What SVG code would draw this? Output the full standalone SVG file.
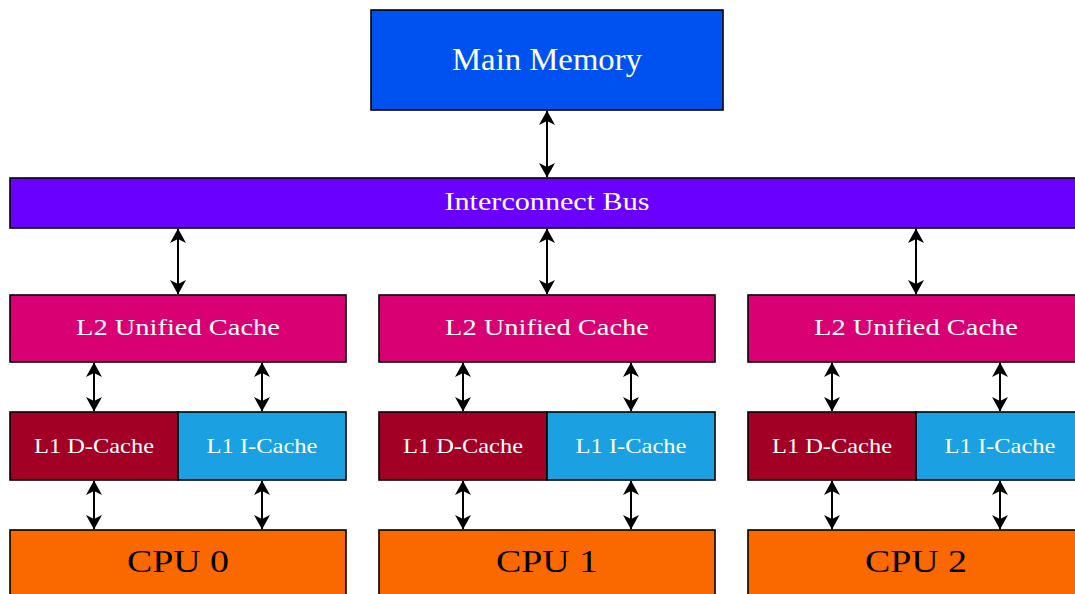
<svg xmlns="http://www.w3.org/2000/svg" width="1075" height="594" viewBox="0 0 1075 594">
<style>
.box{stroke:#000;stroke-width:1.6}
.t{font-family:"Liberation Serif","Times New Roman",serif;text-anchor:middle;fill:#fff}
.dark{fill:#000}
.c line{stroke:#000;stroke-width:2;marker-start:url(#ah);marker-end:url(#ah)}
</style>
<defs>
<marker id="ah" markerUnits="userSpaceOnUse" viewBox="-16 -9 17 18" refX="0" refY="0" markerWidth="17" markerHeight="18" orient="auto-start-reverse">
<path d="M0.5,0 L-14,-8 L-10,0 L-14,8 Z" fill="#000"/>
</marker>
</defs>
<rect width="1075" height="594" fill="#fff"/>
<g class="c" id="connectors">
<line x1="547" y1="111" x2="547" y2="177"/>
<line x1="178" y1="229" x2="178" y2="294"/>
<line x1="547" y1="229" x2="547" y2="294"/>
<line x1="916" y1="229" x2="916" y2="294"/>
<line x1="94" y1="363" x2="94" y2="411"/>
<line x1="262" y1="363" x2="262" y2="411"/>
<line x1="463" y1="363" x2="463" y2="411"/>
<line x1="631" y1="363" x2="631" y2="411"/>
<line x1="832" y1="363" x2="832" y2="411"/>
<line x1="1000" y1="363" x2="1000" y2="411"/>
<line x1="94" y1="481" x2="94" y2="529"/>
<line x1="262" y1="481" x2="262" y2="529"/>
<line x1="463" y1="481" x2="463" y2="529"/>
<line x1="631" y1="481" x2="631" y2="529"/>
<line x1="832" y1="481" x2="832" y2="529"/>
<line x1="1000" y1="481" x2="1000" y2="529"/>
</g>
<g id="main-memory"><rect class="box" x="371" y="10" width="352" height="100" fill="#0052F0"/><text class="t" x="547" y="70" font-size="31" textLength="190" lengthAdjust="spacingAndGlyphs">Main Memory</text></g>
<g id="bus"><rect class="box" x="10" y="178" width="1074" height="50" fill="#6A00FF"/><text class="t" x="547" y="210" font-size="25" textLength="205" lengthAdjust="spacingAndGlyphs">Interconnect Bus</text></g>

<g id="l2-0"><rect class="box" x="10" y="295" width="336" height="67" fill="#D80073"/><text class="t" x="178" y="335" font-size="23.5" textLength="204" lengthAdjust="spacingAndGlyphs">L2 Unified Cache</text></g>
<g id="l2-1"><rect class="box" x="379" y="295" width="336" height="67" fill="#D80073"/><text class="t" x="547" y="335" font-size="23.5" textLength="204" lengthAdjust="spacingAndGlyphs">L2 Unified Cache</text></g>
<g id="l2-2"><rect class="box" x="748" y="295" width="336" height="67" fill="#D80073"/><text class="t" x="916" y="335" font-size="23.5" textLength="204" lengthAdjust="spacingAndGlyphs">L2 Unified Cache</text></g>

<g id="l1d-0"><rect class="box" x="10" y="412" width="168" height="68" fill="#A20025"/><text class="t" x="94" y="453" font-size="22" textLength="120" lengthAdjust="spacingAndGlyphs">L1 D-Cache</text></g>
<g id="l1i-0"><rect class="box" x="178" y="412" width="168" height="68" fill="#1BA1E2"/><text class="t" x="262" y="453" font-size="22" textLength="111" lengthAdjust="spacingAndGlyphs">L1 I-Cache</text></g>
<g id="l1d-1"><rect class="box" x="379" y="412" width="168" height="68" fill="#A20025"/><text class="t" x="463" y="453" font-size="22" textLength="120" lengthAdjust="spacingAndGlyphs">L1 D-Cache</text></g>
<g id="l1i-1"><rect class="box" x="547" y="412" width="168" height="68" fill="#1BA1E2"/><text class="t" x="631" y="453" font-size="22" textLength="111" lengthAdjust="spacingAndGlyphs">L1 I-Cache</text></g>
<g id="l1d-2"><rect class="box" x="748" y="412" width="168" height="68" fill="#A20025"/><text class="t" x="832" y="453" font-size="22" textLength="120" lengthAdjust="spacingAndGlyphs">L1 D-Cache</text></g>
<g id="l1i-2"><rect class="box" x="916" y="412" width="168" height="68" fill="#1BA1E2"/><text class="t" x="1000" y="453" font-size="22" textLength="111" lengthAdjust="spacingAndGlyphs">L1 I-Cache</text></g>

<g id="cpu-0"><rect class="box" x="10" y="530" width="336" height="68" fill="#FA6800"/><text class="t dark" x="178" y="572" font-size="32" textLength="102" lengthAdjust="spacingAndGlyphs">CPU 0</text></g>
<g id="cpu-1"><rect class="box" x="379" y="530" width="336" height="68" fill="#FA6800"/><text class="t dark" x="547" y="572" font-size="32" textLength="102" lengthAdjust="spacingAndGlyphs">CPU 1</text></g>
<g id="cpu-2"><rect class="box" x="748" y="530" width="336" height="68" fill="#FA6800"/><text class="t dark" x="916" y="572" font-size="32" textLength="102" lengthAdjust="spacingAndGlyphs">CPU 2</text></g>
</svg>
